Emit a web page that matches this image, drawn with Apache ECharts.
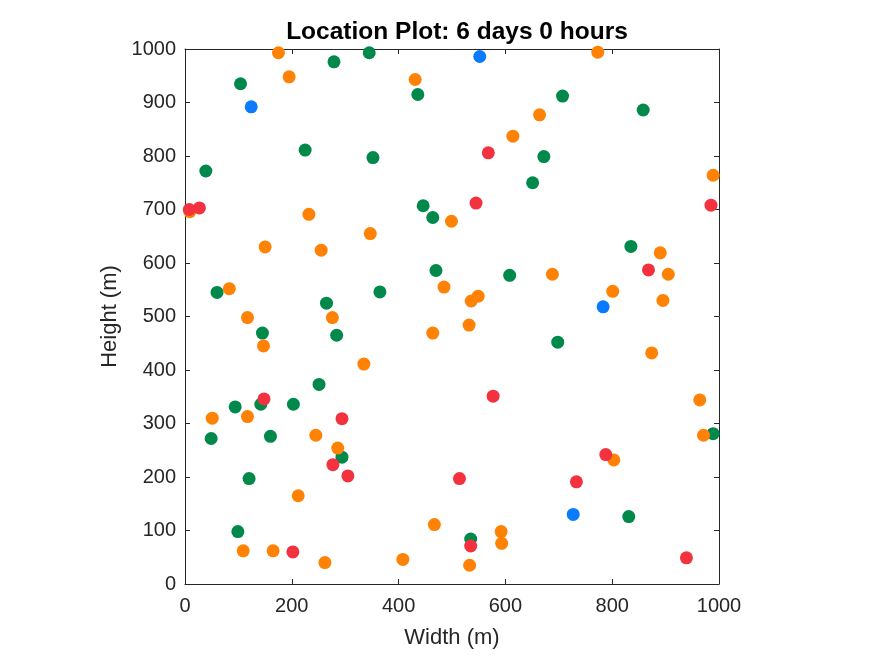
<!DOCTYPE html>
<html>
<head>
<meta charset="utf-8">
<script src="https://cdn.jsdelivr.net/npm/echarts@6/dist/echarts.min.js"></script>
<style>
html, body { margin: 0; padding: 0; background: #fff; }
#main { width: 875px; height: 656px; }
</style>
</head>
<body>
<div id="main"></div>
<script>
// node positions [width, height], grouped by colour
var bluePts = [[124, 892], [552, 986], [783, 518], [727, 130]];

var redPts = [
    [8, 700], [27, 703], [568, 806], [545, 712], [985, 708], [868, 587],
    [148, 346], [294, 309], [577, 351], [277, 223], [305, 202], [514, 197],
    [733, 191], [788, 242], [202, 60], [535, 71], [939, 49]
];

var orangePts = [
    [9, 696], [175, 993], [195, 948], [431, 943], [773, 994], [664, 877],
    [614, 837], [232, 691], [499, 678], [989, 764], [150, 630], [255, 624],
    [347, 655], [83, 552], [117, 498], [276, 498], [485, 555], [688, 579],
    [890, 619], [905, 579], [801, 547], [549, 538], [536, 529], [895, 530],
    [532, 484], [464, 469], [147, 445], [874, 432], [335, 411], [51, 310],
    [117, 313], [245, 278], [286, 254], [964, 344], [971, 278], [803, 232],
    [212, 165], [467, 111], [592, 98], [593, 76], [109, 62], [165, 62],
    [262, 40], [408, 46], [533, 35]
];

var greenPts = [
    [104, 935], [279, 976], [345, 993], [436, 915], [707, 912], [858, 886],
    [225, 811], [352, 797], [39, 772], [672, 799], [651, 750], [446, 707],
    [464, 685], [470, 586], [608, 577], [835, 631], [60, 545], [365, 546],
    [265, 525], [284, 465], [145, 469], [698, 452], [251, 373], [94, 331],
    [142, 336], [203, 336], [160, 276], [49, 272], [294, 237], [989, 281],
    [120, 197], [99, 98], [535, 84], [831, 126]
];

var xTicks = [0, 200, 400, 600, 800, 1000];
var yTicks = [0, 100, 200, 300, 400, 500, 600, 700, 800, 900, 1000];

var axisColor = '#262626';
var fontFam = '"Liberation Sans", Arial, sans-serif';

function boxAxis(pos, step, showLabels, name) {
    var vert = (pos === 'left' || pos === 'right');
    return {
        type: 'value',
        position: pos,
        min: 0,
        max: 1000,
        interval: step,
        name: name,
        nameLocation: 'middle',
        nameGap: vert ? 50 : 43,
        nameTextStyle: { color: axisColor, fontSize: 22, fontFamily: fontFam },
        axisLine: { show: true, onZero: false, lineStyle: { color: axisColor, width: 1 } },
        axisTick: { show: true, inside: true, length: 5, lineStyle: { color: axisColor } },
        axisLabel: {
            show: showLabels,
            color: axisColor,
            fontSize: 20,
            fontFamily: fontFam,
            margin: vert ? 9 : 12,
            formatter: function (v) { return String(v); }
        },
        splitLine: { show: false }
    };
}

function dots(name, pts, color) {
    return {
        name: name,
        type: 'scatter',
        data: pts,
        symbol: 'circle',
        symbolSize: 13,
        itemStyle: { color: color, opacity: 1 },
        emphasis: { disabled: true }
    };
}

var chart = echarts.init(document.getElementById('main'));

var option = {
    backgroundColor: '#ffffff',
    animation: false,
    title: {
        text: 'Location Plot: 6 days 0 hours',
        left: 452,
        textAlign: 'center',
        top: 15,
        textStyle: { color: '#000', fontSize: 24.5, fontWeight: 'bold', fontFamily: fontFam }
    },
    grid: { left: 185, right: 156, top: 49, bottom: 72 },
    xAxis: [
        boxAxis('bottom', 200, true, 'Width (m)'),
        boxAxis('top', 200, false, '')
    ],
    yAxis: [
        boxAxis('left', 100, true, 'Height (m)'),
        boxAxis('right', 100, false, '')
    ],
    series: [
        dots('green', greenPts, '#00894B'),
        dots('orange', orangePts, '#FF8205'),
        dots('red', redPts, '#F2333F'),
        dots('blue', bluePts, '#0A7BFF')
    ]
};

chart.setOption(option);
</script>
</body>
</html>
